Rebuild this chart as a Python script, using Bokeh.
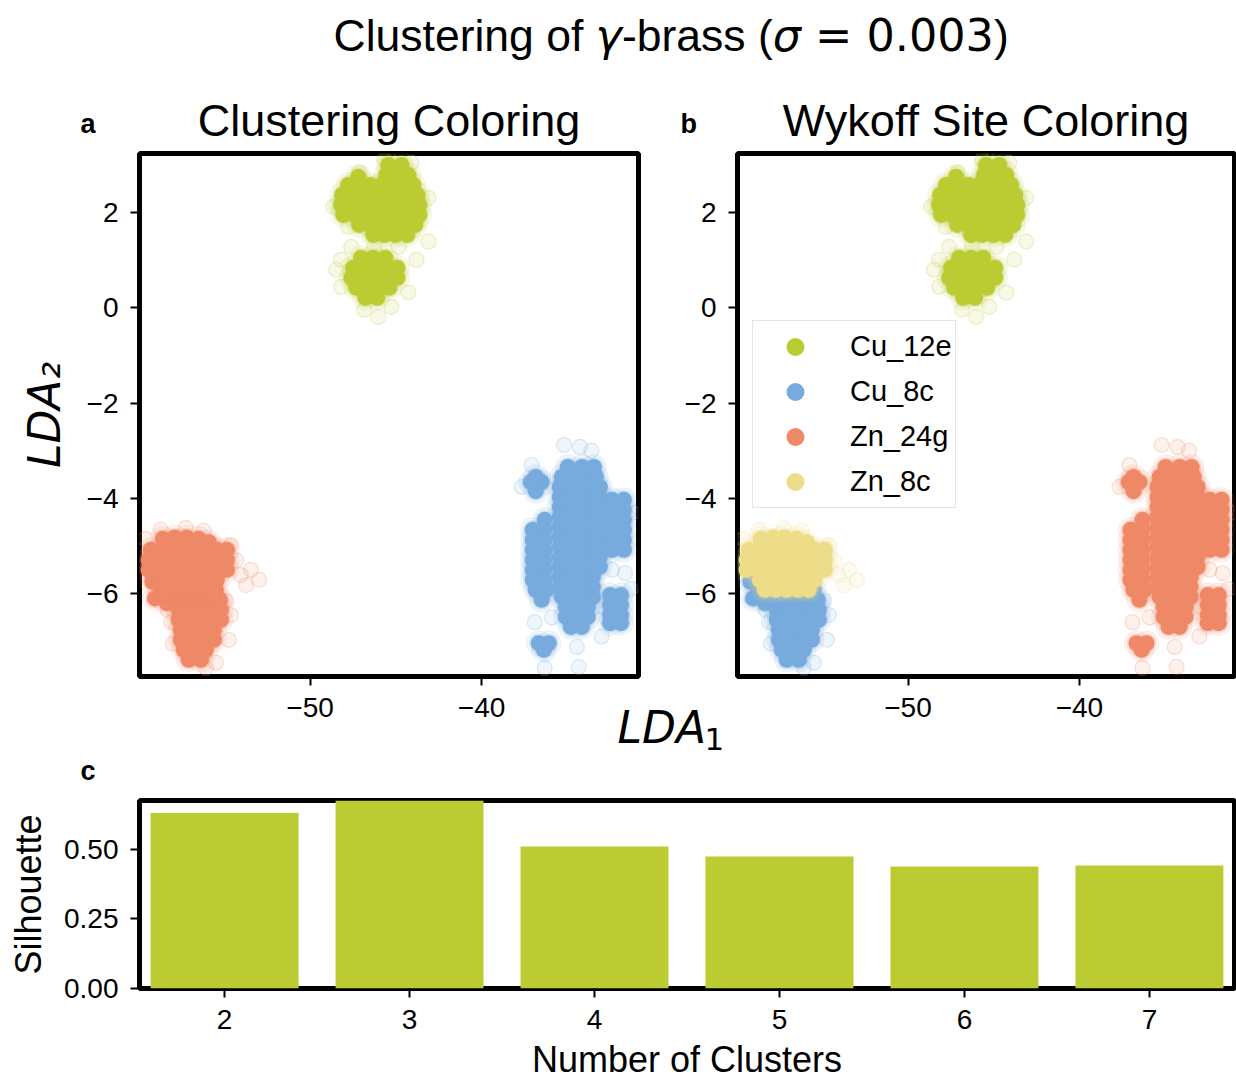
from bokeh.plotting import figure
from bokeh.layouts import column, row
from bokeh.models import (Range1d, FixedTicker, Label, Legend, LegendItem,
                          PrintfTickFormatter)
from bokeh.embed import file_html
from bokeh.resources import INLINE

# ---------------------------------------------------------------------------
# LDA projection of the gamma-brass atoms, grouped by Wyckoff site.
# "core" points sit in the dense part of each group, "stray" points on its rim.
# ---------------------------------------------------------------------------
cu12e_x = [
    -45.44, -44.68,
    -47.19, -45.56, -44.85, -44.27,
    -47.78, -47.13, -46.49, -45.85, -45.20, -44.56, -43.98,
    -48.13, -47.49, -46.84, -46.20, -45.56, -44.91, -44.27, -43.74,
    -48.19, -47.54, -46.90, -46.26, -45.61, -44.97, -44.33, -43.63,
    -48.07, -47.43, -46.78, -46.14, -45.50, -44.85, -44.21, -43.63,
    -47.13, -46.49, -45.85, -45.20, -44.56, -43.86,
    -46.32, -45.67, -45.03, -44.33,
    -47.02, -46.32, -45.61,
    -47.49, -46.84, -46.20, -45.56, -44.91,
    -47.60, -46.96, -46.32, -45.61, -44.91,
    -47.31, -46.67, -46.02, -45.38,
    -46.78, -46.08]
cu12e_y = [
    3.00, 3.00,
    2.75, 2.79, 2.79, 2.79,
    2.58, 2.58, 2.58, 2.58, 2.58, 2.58, 2.58,
    2.37, 2.37, 2.37, 2.37, 2.37, 2.37, 2.37, 2.37,
    2.16, 2.16, 2.16, 2.16, 2.16, 2.16, 2.16, 2.16,
    1.95, 1.95, 1.95, 1.95, 1.95, 1.95, 1.95, 1.95,
    1.74, 1.74, 1.74, 1.74, 1.74, 1.74,
    1.53, 1.53, 1.53, 1.53,
    1.05, 1.05, 1.05,
    0.84, 0.84, 0.84, 0.84, 0.84,
    0.63, 0.63, 0.63, 0.63, 0.63,
    0.42, 0.42, 0.42, 0.42,
    0.21, 0.21]
cu12e_stray_x = [-48.19, -47.60, -43.80, -43.10, -43.10, -48.65, -47.78, -46.84, -46.02,
                 -48.19, -44.27, -45.26, -45.67, -44.09, -47.13, -44.85, -46.26, -48.48]
cu12e_stray_y = [1.01, 1.28, 1.01, 1.39, 2.31, 2.12, 1.70, -0.04, -0.19,
                 0.44, 0.32, 0.02, 3.11, 3.05, 2.84, 1.28, 1.28, 0.80]

cu8c_x = [
    -59.20, -58.70, -59.05, -58.35, -56.10, -55.50,
    -57.84, -57.19, -56.55, -55.91, -55.26,
    -57.66, -57.02, -56.37, -55.73, -55.20,
    -57.66, -57.02, -56.37, -55.73, -55.20,
    -57.54, -56.90, -56.26, -55.61,
    -57.54, -56.90, -56.26, -55.61,
    -57.37, -56.73, -56.08,
    -57.08, -56.37]
cu8c_y = [
    -5.75, -5.98, -6.10, -6.20, -5.92, -5.92,
    -6.13, -6.13, -6.13, -6.13, -6.13,
    -6.34, -6.34, -6.34, -6.34, -6.34,
    -6.55, -6.55, -6.55, -6.55, -6.55,
    -6.76, -6.76, -6.76, -6.76,
    -6.97, -6.97, -6.97, -6.97,
    -7.18, -7.18, -7.18,
    -7.39, -7.39]
cu8c_stray_x = [-54.62, -54.74, -56.08, -55.50, -58.10, -54.90, -58.00, -58.30]
cu8c_stray_y = [-6.45, -6.97, -7.56, -7.45, -6.60, -6.15, -7.05, -6.35]

zn24g_x = [
    -34.97, -34.15, -33.45,
    -35.32, -34.68, -34.04, -33.33,
    -35.44, -34.80, -34.15, -33.51, -33.10,
    -35.44, -34.80, -34.15, -33.51, -33.10,
    -35.44, -34.80, -34.15, -33.51, -33.10,
    -35.44, -34.80, -34.15, -33.51, -33.10,
    -35.44, -34.80, -34.15, -33.51, -33.10,
    -35.44, -34.80, -34.15, -33.51, -33.10,
    -35.44, -34.80, -34.15, -33.51, -33.10,
    -35.44, -34.80, -34.15, -33.51, -33.10,
    -35.44, -34.80, -34.15, -33.51, -33.10,
    -35.44, -34.80, -34.15, -33.51,
    -35.44, -34.80, -34.15, -33.51,
    -35.32, -34.68, -34.04, -33.51,
    -35.09, -34.44, -33.80,
    -35.09, -34.44, -33.80,
    -34.80, -34.15,
    -36.32,
    -37.02, -36.32,
    -37.02, -36.32,
    -37.02, -36.32,
    -37.02, -36.32,
    -37.02, -36.32,
    -37.02, -36.32,
    -36.85, -36.20,
    -36.50,
    -37.13, -36.49, -36.84, -36.84,
    -32.40, -31.70, -32.40, -31.70, -32.40, -31.70,
    -32.40, -31.70, -32.40, -31.70, -32.40, -31.70,
    -32.51, -31.87, -32.51, -31.87, -32.51, -31.87, -32.51, -31.87,
    -36.67, -36.08, -36.37]
zn24g_y = [
    -3.34, -3.34, -3.34,
    -3.55, -3.55, -3.55, -3.55,
    -3.76, -3.76, -3.76, -3.76, -3.76,
    -3.97, -3.97, -3.97, -3.97, -3.97,
    -4.18, -4.18, -4.18, -4.18, -4.18,
    -4.39, -4.39, -4.39, -4.39, -4.39,
    -4.60, -4.60, -4.60, -4.60, -4.60,
    -4.81, -4.81, -4.81, -4.81, -4.81,
    -5.02, -5.02, -5.02, -5.02, -5.02,
    -5.23, -5.23, -5.23, -5.23, -5.23,
    -5.44, -5.44, -5.44, -5.44, -5.44,
    -5.65, -5.65, -5.65, -5.65,
    -5.86, -5.86, -5.86, -5.86,
    -6.07, -6.07, -6.07, -6.07,
    -6.28, -6.28, -6.28,
    -6.49, -6.49, -6.49,
    -6.70, -6.70,
    -4.45,
    -4.66, -4.66,
    -4.87, -4.87,
    -5.08, -5.08,
    -5.29, -5.29,
    -5.50, -5.50,
    -5.71, -5.71,
    -5.92, -5.92,
    -6.13,
    -3.66, -3.66, -3.85, -3.55,
    -4.03, -4.03, -4.24, -4.24, -4.45, -4.45,
    -4.66, -4.66, -4.87, -4.87, -5.08, -5.08,
    -6.03, -6.03, -6.24, -6.24, -6.45, -6.45, -6.62, -6.62,
    -7.04, -7.04, -7.18]
zn24g_stray_x = [-35.20, -34.27, -37.66, -36.32, -34.33, -34.44, -32.40, -31.64,
                 -32.98, -37.08, -35.90, -33.00, -31.20, -31.30, -36.90, -33.60]
zn24g_stray_y = [-2.88, -2.92, -3.76, -7.56, -7.54, -7.12, -5.50, -5.57,
                 -6.28, -3.30, -6.50, -6.90, -4.30, -5.90, -6.60, -3.00]

zn8c_x = [
    -58.60, -57.90, -57.20, -56.50, -55.90,
    -59.30, -58.65, -58.01, -57.37, -56.73, -56.08, -55.44, -54.85,
    -59.42, -58.77, -58.13, -57.49, -56.84, -56.20, -55.56, -54.85,
    -59.42, -58.77, -58.13, -57.49, -56.84, -56.20, -55.56, -54.85,
    -58.65, -58.01, -57.37, -56.73, -56.08, -55.44,
    -58.36, -57.72, -57.08, -56.43, -55.79]
zn8c_y = [
    -4.85, -4.82, -4.82, -4.85, -4.92,
    -5.08, -5.08, -5.08, -5.08, -5.08, -5.08, -5.08, -5.08,
    -5.29, -5.29, -5.29, -5.29, -5.29, -5.29, -5.29, -5.29,
    -5.50, -5.50, -5.50, -5.50, -5.50, -5.50, -5.50, -5.50,
    -5.71, -5.71, -5.71, -5.71, -5.71, -5.71,
    -5.92, -5.92, -5.92, -5.92, -5.92]
zn8c_stray_x = [-54.04, -53.45, -52.98, -53.74, -58.71, -57.25, -54.62, -56.20, -54.30, -59.60]
zn8c_stray_y = [-5.61, -5.50, -5.71, -5.82, -4.66, -4.62, -4.98, -4.68, -5.30, -4.85]

site_names = ["Cu_12e", "Cu_8c", "Zn_24g", "Zn_8c"]
site_points = {
    "Cu_12e": (cu12e_x, cu12e_y, cu12e_stray_x, cu12e_stray_y),
    "Cu_8c": (cu8c_x, cu8c_y, cu8c_stray_x, cu8c_stray_y),
    "Zn_24g": (zn24g_x, zn24g_y, zn24g_stray_x, zn24g_stray_y),
    "Zn_8c": (zn8c_x, zn8c_y, zn8c_stray_x, zn8c_stray_y),
}

# silhouette score against the number of k-means clusters
n_clusters = [2, 3, 4, 5, 6, 7]
silhouette = [0.631, 0.676, 0.511, 0.475, 0.439, 0.442]

lda1_ticks = [-50, -40]
lda2_ticks = [-6, -4, -2, 0, 2]
sil_ticks = [0.0, 0.25, 0.5]

PEAR, BLUE, ORANGE, YELLOW = "#BBCC33", "#77AADD", "#EE8866", "#EEDD88"
cluster_color = {"Cu_12e": PEAR, "Cu_8c": ORANGE, "Zn_24g": BLUE, "Zn_8c": ORANGE}
site_color = {"Cu_12e": PEAR, "Cu_8c": BLUE, "Zn_24g": ORANGE, "Zn_8c": YELLOW}

SANS = "Liberation Sans"
MATH = "DejaVu Sans"
PAGE_W, PAGE_H = 1236, 1082
ROW_H = 738          # height of the two scatter panels


def minus(v):
    return str(v).replace("-", "\u2212")


def style_axes(p):
    p.grid.visible = False
    p.outline_line_color = "black"
    p.outline_line_width = 5
    for ax in (p.xaxis[0], p.yaxis[0]):
        ax.axis_line_color = None
        ax.major_tick_line_width = 2
        ax.major_tick_line_color = "black"
        ax.major_tick_in = 0
        ax.major_tick_out = 9
        ax.minor_tick_line_color = None
        ax.major_label_text_font = SANS
        ax.major_label_text_font_size = "28px"
        ax.major_label_text_color = "black"
        ax.major_label_standoff = 12


def panel_letter(p, letter, offset):
    p.title.text = letter
    p.title.align = "left"
    p.title.offset = offset
    p.title.standoff = 29
    p.title.text_font = SANS
    p.title.text_font_size = "27px"
    p.title.text_font_style = "bold"
    p.title.text_color = "black"


def scatter_panel(width, x_end, left, right, colors):
    p = figure(width=width, height=ROW_H, x_range=Range1d(-59.95, x_end),
               y_range=Range1d(-7.74, 3.24), toolbar_location=None,
               output_backend="svg", min_border_left=left, min_border_right=right,
               min_border_top=153, min_border_bottom=ROW_H - 676)
    style_axes(p)
    p.xaxis.ticker = FixedTicker(ticks=lda1_ticks)
    p.xaxis.major_label_overrides = {t: minus(t) for t in lda1_ticks}
    p.yaxis.ticker = FixedTicker(ticks=lda2_ticks)
    p.yaxis.major_label_overrides = {t: minus(t) for t in lda2_ticks}
    solid = {}
    for name in site_names:
        cx, cy, sx, sy = site_points[name]
        c = colors[name]
        # faint outer rings, rim points, a soft band, then the dense core
        p.scatter(cx, cy, size=24, marker="circle", fill_color=c, fill_alpha=0.07,
                  line_color=c, line_alpha=0.14, line_width=1.2)
        p.scatter(sx, sy, size=15, marker="circle", fill_color=c, fill_alpha=0.12,
                  line_color=c, line_alpha=0.25, line_width=1.2)
        p.scatter(cx, cy, size=20, marker="circle", fill_color=c, fill_alpha=0.25,
                  line_color=None)
        solid[name] = p.scatter(cx, cy, size=16, marker="circle", fill_color=c,
                                fill_alpha=1.0, line_color=None)
    return p, solid


# ---- panel a: k-means clusters ------------------------------------------
pa, _ = scatter_panel(730, -30.85, 139, 92, cluster_color)
panel_letter(pa, "a", -59)
pa.yaxis.axis_label = "LDA\u2082"
pa.yaxis.axis_label_text_font = MATH
pa.yaxis.axis_label_text_font_style = "italic"
pa.yaxis.axis_label_text_font_size = "44px"
pa.yaxis.axis_label_text_color = "black"
pa.yaxis.axis_label_standoff = 14

# ---- panel b: Wyckoff sites ----------------------------------------------
pb, pb_solid = scatter_panel(556, -30.95, 57, 2, site_color)
panel_letter(pb, "b", -57)
pb.border_fill_color = None
pb.margin = (0, 0, 0, -50)
legend = Legend(items=[LegendItem(label=n, renderers=[pb_solid[n]]) for n in site_names],
                location=(15, 168), orientation="vertical",
                glyph_width=78, glyph_height=45, spacing=0, padding=3,
                label_standoff=16, margin=0, label_text_font=SANS,
                label_text_font_size="29px", label_text_color="black",
                border_line_color="#cccccc", border_line_width=1.5,
                background_fill_color="white", background_fill_alpha=0.8)
pb.add_layout(legend)

# ---- panel c: silhouette scores -------------------------------------------
pc = figure(width=PAGE_W, height=PAGE_H - ROW_H, x_range=Range1d(1.54, 7.46),
            y_range=Range1d(0, max(silhouette)), toolbar_location=None,
            output_backend="svg", min_border_left=139, min_border_right=2,
            min_border_top=800 - ROW_H, min_border_bottom=94)
style_axes(pc)
panel_letter(pc, "c", -59)
pc.vbar(x=n_clusters, top=silhouette, width=0.8, fill_color=PEAR, line_color=None)
pc.xaxis.ticker = FixedTicker(ticks=n_clusters)
pc.yaxis.ticker = FixedTicker(ticks=sil_ticks)
pc.yaxis.formatter = PrintfTickFormatter(format="%.2f")
for ax, name, gap in ((pc.yaxis[0], "Silhouette", 12), (pc.xaxis[0], "Number of Clusters", 7)):
    ax.axis_label = name
    ax.axis_label_text_font = SANS
    ax.axis_label_text_font_style = "normal"
    ax.axis_label_text_font_size = "36px"
    ax.axis_label_text_color = "black"
    ax.axis_label_standoff = gap

# ---- transparent text layer for the headings and the shared LDA1 label ----
top = figure(width=PAGE_W, height=PAGE_H, x_range=(0, 1), y_range=(0, 1),
             x_axis_type=None, y_axis_type=None, toolbar_location=None,
             output_backend="svg", min_border_left=139, min_border_right=2,
             min_border_top=0, min_border_bottom=0)
top.grid.visible = False
top.outline_line_color = None
top.border_fill_color = None
top.background_fill_color = None
top.margin = (-PAGE_H, 0, 0, 0)


def text(X, Y, s, size, font=SANS, style="normal", align="left"):
    top.add_layout(Label(x=X - 139, y=PAGE_H - Y + 0.337 * size,
                         x_units="screen", y_units="screen", text=s,
                         text_font=font, text_font_size=f"{size}px",
                         text_font_style=style, text_align=align,
                         text_baseline="alphabetic", text_color="black"))


fs = 44.5
text(333.0, 50, "Clustering of", fs)
text(595.1, 50, "\u03b3", fs, font=MATH, style="italic")
text(621.4, 50, "-brass (", fs)
text(772.2, 50, "\u03c3", fs, font=MATH, style="italic")
text(814.6, 50, "= 0.003", fs, font=MATH)
text(993.4, 50, ")", fs)
text(388.5, 135, "Clustering Coloring", 45, align="center")
text(985.5, 135, "Wykoff Site Coloring", 45, align="center")
text(617, 742, "LDA", 44, font=MATH, style="italic")
text(704, 749, "1", 31, font=MATH)

layout = column(row(pa, pb), pc, top)
open("out.html", "w").write(file_html(layout, INLINE))
